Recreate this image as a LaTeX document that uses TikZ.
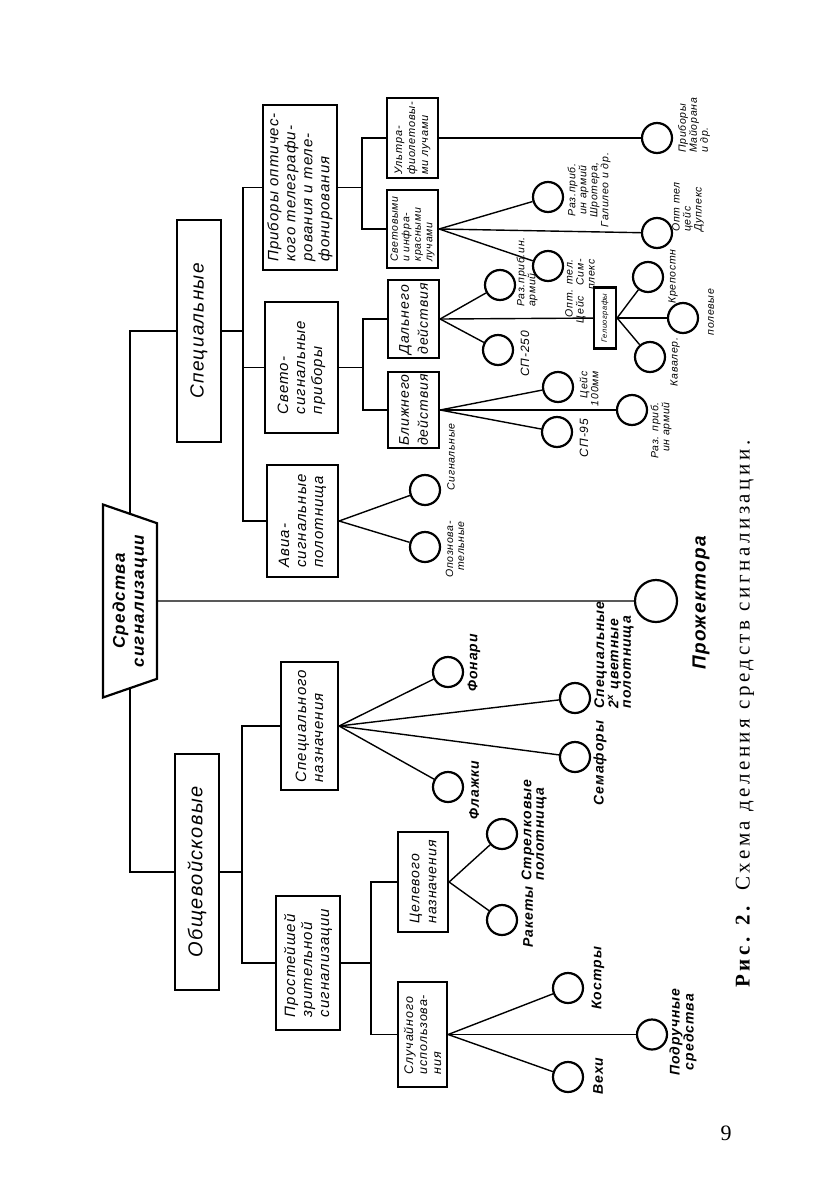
\documentclass[tikz,border=0pt]{standalone}
\usepackage{fontspec}
\setmainfont{Liberation Serif}
\newfontfamily\drawfont[LetterSpace=7]{Liberation Sans}
\newfontfamily\capfont[LetterSpace=17]{Liberation Serif}
\usetikzlibrary{shapes.geometric}
\tikzset{
  link/.style={line width=1.4pt},
  box/.style={draw,line width=2.2pt,rotate=90,align=left,inner sep=1pt,font=\drawfont\itshape\fontsize{15}{17}\selectfont},
  sig/.style={circle,draw,line width=2.2pt,minimum size=30pt,inner sep=0pt},
  lbl/.style={rotate=90,inner sep=0pt,align=left,font=\drawfont\itshape\bfseries\fontsize{14}{12.5}\selectfont},
  note/.style={rotate=90,inner sep=0pt,align=left,font=\drawfont\itshape\fontsize{10.5}{11}\selectfont},
}
\begin{document}
\begin{tikzpicture}[x=1pt,y=-1pt]
\useasboundingbox (0,0) rectangle (840,1191);
\node[trapezium,draw,line width=2.2pt,fill=white,rotate=90,trapezium left angle=112,trapezium right angle=112,trapezium stretches=true,minimum width=193pt,minimum height=54pt,align=center,font=\drawfont\itshape\bfseries\fontsize{17}{19}\selectfont] (r) at (130,601) {Средства\\сигнализации};
\node[box,minimum width=222pt,minimum height=44pt,font=\drawfont\itshape\fontsize{19}{20}\selectfont] (s) at (199,331) {Специальные};
\node[box,minimum width=236pt,minimum height=44pt,font=\drawfont\itshape\fontsize{20}{20}\selectfont] (g) at (197,872) {Общевойсковые};
\draw[link] (s.north) -| (r.east);
\draw[link] (g.north) -| (r.west);
\node[sig,minimum size=42pt] (proj) at (656,601) {};
\node[lbl,font=\drawfont\itshape\bfseries\fontsize{19}{19}\selectfont] (lproj) at (701,603) {Прожектора};
\draw[link] (r.south) -- (proj);

\coordinate (sb) at (243,331);
\node[box,minimum width=165pt,minimum height=74pt] (o) at (300,187.5) {Приборы оптичес-\\кого телеграфи-\\рования и теле-\\фонирования};
\node[box,minimum width=131pt,minimum height=73pt] (v) at (301.5,367.5) {Свето-\\сигнальные\\приборы};
\node[box,minimum width=112pt,minimum height=71pt] (a) at (302.5,521) {Авиа-\\сигнальные\\полотнища};
\draw[link] (s.south) -- (sb);
\foreach \k in {o,v,a} \draw[link] (\k.north) -| (sb);

\coordinate (ob) at (362,187.5);
\node[box,minimum width=80pt,minimum height=51pt,font=\drawfont\itshape\fontsize{11}{13}\selectfont] (u) at (412.5,138) {Ультра-\\фиолетовы-\\ми лучами};
\node[box,minimum width=78pt,minimum height=51pt,font=\drawfont\itshape\fontsize{10.5}{11.5}\selectfont] (i) at (412.5,229) {Световыми\\и инфра-\\красными\\лучами};
\draw[link] (o.south) -- (ob);
\foreach \k in {u,i} \draw[link] (\k.north) -| (ob);
\node[sig] (maj) at (657,138) {};
\node[note,anchor=west] (lmaj) at (694,153) {Приборы\\Майорана\\и др.};
\draw[link] (u.south) -- (maj);
\node[sig] (rz) at (548,197) {};
\node[sig] (dup) at (657,233) {};
\node[sig] (sim) at (548,266) {};
\foreach \k in {rz,dup,sim} \draw[link] (i.south) -- (\k);
\node[note,align=center] (lrz) at (589,190) {Раз.приб.\\ин армий\\Шротера,\\Галилео и др.};
\node[note,anchor=west] (ldup) at (688,232) {Опт тел\\цейс\\Дуплекс};
\node[note,align=right,anchor=east] (lsim) at (580,259) {Опт. тел.\\Цейс\quad Сим-\\плекс};

\coordinate (vb) at (363,367.5);
\node[box,minimum width=78pt,minimum height=51pt,font=\drawfont\itshape\fontsize{14}{19}\selectfont] (d) at (413.5,319) {Дальнего\\действия};
\node[box,minimum width=76pt,minimum height=51pt,font=\drawfont\itshape\fontsize{14}{19}\selectfont] (b) at (413.5,410) {Ближнего\\действия};
\draw[link] (v.south) -- (vb);
\foreach \k in {d,b} \draw[link] (\k.north) -| (vb);
\node[sig] (rzd) at (500,285) {};
\node[sig] (sp250) at (498,350) {};
\node[box,minimum width=61pt,minimum height=22pt,inner sep=0pt,font=\drawfont\itshape\fontsize{7.5}{8}\selectfont] (h) at (605,318) {Гелиографы};
\foreach \k in {rzd,sp250,h} \draw[link] (d.south) -- (\k);
\node[note,anchor=west] (lrzd) at (527,307) {Раз.приб.ин.\\армий};
\node[note,font=\drawfont\itshape\fontsize{12}{12}\selectfont] (lsp250) at (525,354) {СП-250};
\node[sig] (krep) at (648,277) {};
\node[sig] (pol) at (683,318) {};
\node[sig] (kav) at (650,357) {};
\foreach \k in {krep,pol,kav} \draw[link] (h.south) -- (\k);
\node[note,anchor=west] (lkrep) at (673,304) {Крепостн};
\node[note] (lpol) at (711,312) {полевые};
\node[note] (lkav) at (675,362) {Кавалер.};
\node[sig] (zeis) at (558,387) {};
\node[sig] (rzb) at (632,410) {};
\node[sig] (sp95) at (557,432) {};
\foreach \k in {zeis,rzb,sp95} \draw[link] (b.south) -- (\k);
\node[note,align=right,anchor=east] (lzeis) at (589,371) {Цейс\\100мм};
\node[note,align=right,anchor=east] (lrzb) at (661,402) {Раз. приб.\\ин армий};
\node[note,font=\drawfont\itshape\fontsize{12}{12}\selectfont] (lsp95) at (584,438) {СП-95};

\node[sig] (sig) at (425,490) {};
\node[sig] (opz) at (425,547) {};
\foreach \k in {sig,opz} \draw[link] (a.south) -- (\k);
\node[note] (lsig) at (451,457) {Сигнальные};
\node[note,align=right,anchor=east] (lopz) at (455,521) {Опознова-\\тельные};

\coordinate (gb) at (242,872);
\node[box,minimum width=128pt,minimum height=57pt] (n) at (309.5,726) {Специального\\назначения};
\node[box,minimum width=134pt,minimum height=64pt] (p) at (308,963) {Простейшей\\зрительной\\сигнализации};
\draw[link] (g.south) -- (gb);
\foreach \k in {n,p} \draw[link] (\k.north) -| (gb);
\node[sig] (fon) at (448,672) {};
\node[sig] (spc) at (575,698) {};
\node[sig] (sem) at (575,757) {};
\node[sig] (fl) at (448,787) {};
\foreach \k in {fon,spc,sem,fl} \draw[link] (n.south) -- (\k);
\node[lbl] (lfon) at (474,663) {Фонари};
\node[lbl] (lspc) at (614,655) {Специальные\\2\textsuperscript{х} цветные\\полотнища};
\node[lbl] (lsem) at (600,763) {Семафоры};
\node[lbl] (lfl) at (474,790) {Флажки};

\coordinate (pb) at (371,963);
\node[box,minimum width=100pt,minimum height=50pt,font=\drawfont\itshape\fontsize{14}{17}\selectfont] (t) at (423,882) {Целевого\\назначения};
\node[box,minimum width=105pt,minimum height=49pt,font=\drawfont\itshape\fontsize{12.5}{14}\selectfont] (q) at (422.5,1034.5) {Случайного\\использова-\\ния};
\draw[link] (p.south) -- (pb);
\foreach \k in {t,q} \draw[link] (\k.north) -| (pb);
\node[sig] (str) at (502,834) {};
\node[sig] (rak) at (502,920) {};
\foreach \k in {str,rak} \draw[link] (t.south) -- (\k);
\node[lbl] (lstr) at (534,830) {Стрелковые\\полотнища};
\node[lbl] (lrak) at (528,917) {Ракеты};
\node[sig] (kos) at (568,988) {};
\node[sig] (pod) at (652,1034.5) {};
\node[sig] (veh) at (568,1077) {};
\foreach \k in {kos,pod,veh} \draw[link] (q.south) -- (\k);
\node[lbl] (lkos) at (598,978) {Костры};
\node[lbl,align=center] (lpod) at (683,1032) {Подручные\\средства};
\node[lbl] (lveh) at (598,1076) {Вехи};

\node[rotate=90,font=\capfont\fontsize{21}{21}\selectfont] (cap) at (745,714) {\textbf{Рис. 2.} Схема деления средств сигнализации.};
\node[font=\fontsize{22}{22}\selectfont] (pg) at (726,1133) {9};
\end{tikzpicture}
\end{document}
